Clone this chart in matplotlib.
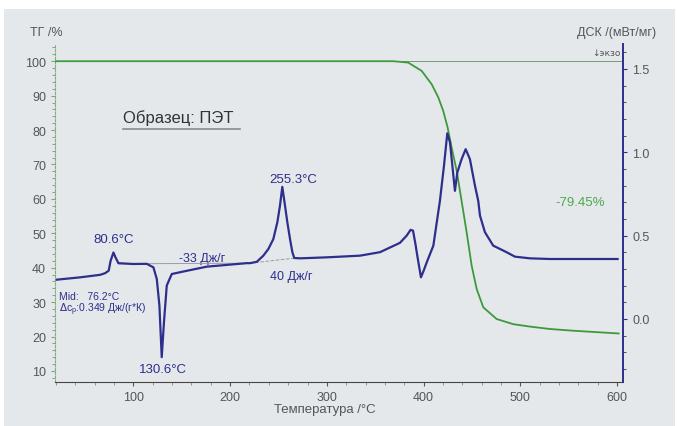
import matplotlib
matplotlib.use("Agg")
import matplotlib.pyplot as plt
from matplotlib.patches import Rectangle
from matplotlib.ticker import MultipleLocator

plt.rcParams["font.family"] = ["Liberation Sans", "DejaVu Sans"]

# TG curve (temperature, mass %)
tg_temp = [20, 300, 368.6, 384, 397.9, 408.3, 415.1, 420.2, 424.8, 428.9,
           434.1, 439.2, 444.4, 449.6, 454.8, 461.6, 475.4, 492.6, 509.8,
           530.5, 554.5, 601.5]
tg_mass = [100, 100, 100, 99.6, 97.2, 93.3, 89.5, 85.6, 80.7, 74.9,
           68.2, 59.4, 50.3, 40.6, 33.8, 28.5, 25.1, 23.6, 22.9,
           22.2, 21.7, 20.9]

# DSC curve (temperature, mW/mg)
dsc_temp = [20.9, 45, 65.6, 70.8, 74.5, 76.5, 79.4, 81.5, 84.5, 100, 113.8,
            120.7, 124.2, 126.9, 129.3, 131.6, 134.5, 139.7, 155, 175.8, 217,
            220.6, 227.5, 234.3, 239.5, 244.6, 248.8, 251.5, 253.9, 256.7,
            259.1, 261.9, 264.3, 266.3, 272.2, 300, 334.2, 354.9, 375.5, 382.4,
            386.5, 389, 391.5, 393.4, 397.2, 400, 403.1, 410, 416.8, 421,
            424.4, 427.2, 432.3, 434.8, 439.2, 443.4, 447.8, 453, 456.4, 458.2,
            463.3, 471.9, 485.6, 494.3, 509.8, 530.5, 554.5, 600.4]
dsc_val = [0.236, 0.250, 0.265, 0.275, 0.290, 0.350, 0.399, 0.370, 0.335,
           0.330, 0.331, 0.310, 0.240, 0.081, -0.229, -0.020, 0.201, 0.270,
           0.289, 0.314, 0.335, 0.335, 0.343, 0.380, 0.420, 0.479, 0.581,
           0.680, 0.793, 0.680, 0.581, 0.479, 0.401, 0.366, 0.364, 0.370,
           0.380, 0.401, 0.457, 0.500, 0.535, 0.530, 0.450, 0.380, 0.250,
           0.290, 0.339, 0.440, 0.709, 0.920, 1.114, 1.060, 0.769, 0.880,
           0.959, 1.019, 0.959, 0.800, 0.709, 0.620, 0.521, 0.440, 0.401,
           0.374, 0.364, 0.360, 0.360, 0.360]

# integration baselines
base1_temp = [84.5, 220.6]
base1_val = [0.331, 0.335]
base2_temp = [220.6, 268]
base2_val = [0.335, 0.366]

BG = "#e5e8eb"
BLUE = "#2e2e8c"
GREEN = "#3c9a3c"
GREY = "#555555"

fig = plt.figure(figsize=(6.77, 4.27), dpi=100)
fig.patch.set_facecolor("white")
fig.patches.append(Rectangle((4 / 677, 0), 671 / 677, 1 - 10 / 427,
                             transform=fig.transFigure, facecolor=BG,
                             edgecolor="none", zorder=-10))

ax = fig.add_axes([55 / 677, 1 - 383 / 427, 568 / 677, 338 / 427])
ax.set_facecolor("none")
ax2 = ax.twinx()

ax.plot(tg_temp, tg_mass, color=GREEN, lw=1.3, zorder=3)
ax.axhline(100, color="#7a9a7a", lw=0.7, zorder=2)
ax2.plot(dsc_temp, dsc_val, color=BLUE, lw=1.6, zorder=3)
ax2.plot(base1_temp, base1_val, color="#9a9aa8", lw=0.7, zorder=2)
ax2.plot(base2_temp, base2_val, color="#9a9aa8", lw=0.7, ls="--", zorder=2)

ax.set_xlim(19, 606)
ax.set_ylim(6.8, 105)
ax2.set_ylim(-0.378, 1.65)

ax.set_xticks([100, 200, 300, 400, 500, 600])
ax.xaxis.set_minor_locator(MultipleLocator(20))
ax.set_yticks(range(10, 101, 10))
ax.yaxis.set_minor_locator(MultipleLocator(2))
ax2.set_yticks([0.0, 0.5, 1.0, 1.5])
ax2.set_yticklabels(["0.0", "0.5", "1.0", "1.5"])
ax2.yaxis.set_minor_locator(MultipleLocator(0.1))

ax.tick_params(axis="both", labelsize=9, colors=GREY, length=3, width=0.8)
ax.tick_params(axis="both", which="minor", length=2, width=0.6, colors="#888888")
ax.tick_params(axis="y", colors="#7aa87a", labelcolor=GREY)
ax2.tick_params(axis="y", labelsize=9, colors=BLUE, labelcolor=GREY, length=3)
ax2.tick_params(axis="y", which="minor", length=2, colors=BLUE)

for a in (ax, ax2):
    a.spines["top"].set_visible(False)
    a.spines["left"].set_visible(False)
    a.spines["right"].set_visible(False)
ax.spines["left"].set_visible(True)
ax.spines["left"].set_color("#7ab07a")
ax.spines["left"].set_linestyle((0, (2, 1.5)))
ax.spines["bottom"].set_color("#444444")
ax2.spines["bottom"].set_visible(False)
ax2.spines["right"].set_visible(True)
ax2.spines["right"].set_color(BLUE)
ax2.spines["right"].set_linewidth(1.4)

fig.text(30 / 677, 1 - 33 / 427, "ТГ /%", fontsize=9, color=GREY, va="center")
fig.text(656 / 677, 1 - 33 / 427, "ДСК /(мВт/мг)", fontsize=9, color=GREY,
         va="center", ha="right")
fig.text(621 / 677, 1 - 53 / 427, "↓экзо", fontsize=6.5, color=GREY,
         va="center", ha="right", family=["DejaVu Sans"])
fig.text(325 / 677, 1 - 410 / 427, "Температура /°C", fontsize=9.5, color=GREY,
         ha="center", va="center")

ax.text(89.4, 83.7, "Образец: ПЭТ", fontsize=12, color="#333333", va="center")
ax.plot([89.4, 210.2], [80.3, 80.3], color="#8a8a8a", lw=1.2)

ann = dict(color=BLUE, fontsize=9.5, va="center")
ax.text(265, 65.7, "255.3°C", ha="center", **ann)
ax.text(79.5, 48.3, "80.6°C", ha="center", **ann)
ax.text(130.2, 10.6, "130.6°C", ha="center", **ann)
ax.text(171.5, 42.8, "-33 Дж/г", ha="center", color=BLUE, fontsize=9, va="center")
ax.text(263, 37.6, "40 Дж/г", ha="center", color=BLUE, fontsize=9, va="center")
ax.text(23.2, 31.8, "Mid:   76.2°C", ha="left", color=BLUE, fontsize=7.5, va="center")
ax.text(23.2, 28.0, r"$\Delta$c$_\mathregular{p}$:0.349 Дж/(г*К)", ha="left",
        color=BLUE, fontsize=7.5, va="center")
ax.text(561.5, 59, "-79.45%", ha="center", color="#4aaa4a", fontsize=9.5, va="center")

fig.savefig("out.png", dpi=100)
